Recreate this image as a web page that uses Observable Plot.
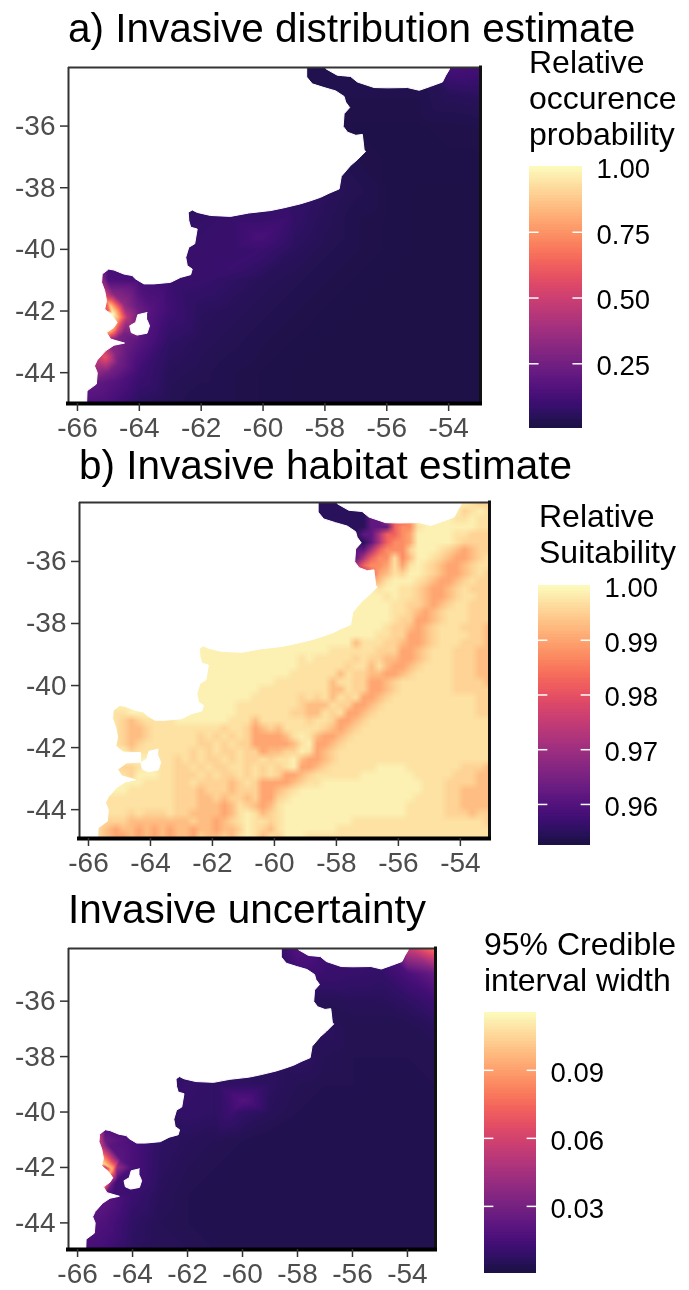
<!DOCTYPE html>
<html><head><meta charset="utf-8">
<script src="https://cdn.jsdelivr.net/npm/d3@7"></script>
<script src="https://cdn.jsdelivr.net/npm/@observablehq/plot@0.6"></script>
<style>
html,body{margin:0;padding:0;background:#fff;width:689px;height:1290px;overflow:hidden;font-family:"Liberation Sans",Arial,sans-serif}
body{filter:blur(.45px)}
.t{position:absolute;white-space:nowrap;color:#000}
.pt{font-size:40.5px;line-height:40px}
.lt{font-size:32px;line-height:36px;white-space:pre}
.p{position:absolute;left:0}
.p svg{display:block;overflow:visible}
</style></head><body>
<script>
const xTicks=[-66,-64,-62,-60,-58,-56,-54];
const yTicks=[-36,-38,-40,-42,-44];
const lons=[-67,-66,-65,-64,-63,-62,-61,-60,-59,-58,-57,-56,-55,-54,-53];
const lats=[-34,-35,-36,-37,-38,-39,-40,-41,-42,-43,-44,-45];
const distGrid=[
[.018,.018,.018,.018,.018,.018,.018,.018,.018,.018,.018,.018,.03,.13,.12],
[.018,.018,.018,.018,.018,.018,.018,.018,.018,.018,.018,.018,.018,.04,.05],
[.018,.018,.018,.018,.018,.018,.018,.018,.018,.018,.012,.012,.012,.015,.018],
[.018,.018,.018,.018,.018,.018,.018,.018,.018,.03,.018,.012,.012,.012,.012],
[.03,.03,.03,.03,.03,.03,.04,.04,.04,.05,.03,.012,.008,.008,.008],
[.05,.05,.05,.05,.06,.07,.08,.08,.07,.04,.018,.012,.008,.008,.008],
[.08,.08,.08,.08,.08,.08,.08,.09,.05,.03,.018,.012,.008,.008,.008],
[.15,.15,.14,.12,.09,.08,.06,.04,.03,.018,.012,.008,.008,.008,.008],
[.60,.60,.60,.22,.10,.05,.04,.03,.018,.012,.008,.008,.008,.008,.008],
[.40,.40,.30,.17,.06,.04,.03,.018,.012,.008,.008,.008,.008,.008,.008],
[.30,.30,.25,.10,.04,.03,.018,.012,.008,.008,.008,.008,.008,.008,.008],
[.15,.15,.13,.05,.03,.018,.018,.012,.008,.008,.008,.008,.008,.008,.008]];
const distHot=[[-60.08,-39.6,.125],[-59.2,-39,.09],[-61,-40.6,.09],[-65,-42.02,1],[-64.85,-42.1,1],[-64.93,-41.85,.88],[-64.72,-42.0,.78],[-64.67,-42.2,.8],[-64.38,-42.2,.42],[-65.09,-41.6,.62],[-65.09,-41.35,.42],[-65.15,-40.9,.25],[-64.83,-41.45,.3],[-64.51,-41.77,.33],[-64.06,-41.9,.22],[-63.6,-41.95,.16],[-64.95,-42.65,.82],[-64.8,-42.6,.72],[-64.67,-42.6,.5],[-64.5,-42.75,.25],[-64.7,-42.87,.28],[-65.09,-43.5,.58],[-65.3,-43.7,.42],[-64.77,-43.4,.3],[-64.7,-43.7,.25],[-65.15,-43.95,.3],[-64.38,-43.3,.2],[-64.6,-44.25,.15],[-65.48,-44.37,.2]];
const uncGrid=[
[.005,.005,.005,.005,.005,.005,.005,.005,.005,.018,.012,.010,.012,.060,.085],
[.005,.005,.005,.005,.005,.005,.005,.005,.010,.012,.010,.009,.008,.015,.025],
[.004,.004,.004,.004,.004,.004,.004,.004,.004,.004,.004,.005,.005,.007,.011],
[.004,.004,.004,.004,.004,.004,.004,.004,.004,.005,.006,.003,.003,.003,.005],
[.005,.005,.005,.005,.005,.005,.005,.006,.006,.007,.004,.003,.003,.003,.003],
[.007,.007,.007,.007,.007,.009,.007,.007,.006,.004,.003,.003,.002,.002,.003],
[.007,.007,.007,.007,.007,.008,.007,.008,.005,.003,.002,.002,.002,.002,.002],
[.020,.020,.025,.015,.007,.005,.004,.003,.002,.002,.002,.002,.002,.002,.002],
[.050,.050,.050,.015,.006,.004,.003,.002,.002,.002,.002,.002,.002,.002,.002],
[.030,.030,.022,.010,.005,.003,.002,.002,.002,.002,.002,.002,.002,.002,.002],
[.020,.020,.016,.007,.004,.003,.002,.002,.002,.002,.002,.002,.002,.002,.002],
[.014,.014,.012,.006,.004,.004,.003,.002,.002,.002,.002,.002,.002,.002,.002]];
const uncHot=[[-59.95,-39.6,.018],[-60.5,-40.1,.010],[-59.4,-39.2,.010],[-65.04,-41.87,.105],[-64.74,-42.05,.095],[-65.1,-41.27,.05],[-65.16,-40.9,.05],[-64.8,-41.27,.02],[-64.44,-41.69,.02],[-64.56,-42,.04],[-65.04,-42.65,.09],[-64.8,-42.65,.025],[-64.55,-42.47,.012],[-64.68,-42.9,.012],[-65.28,-43.56,.02],[-64.98,-43.26,.02]];
const habLevels=[.955,.962,.972,.982,.987,.9898,.9925,.995,.9968,.9985];
const habRows=[
"9999999999 9999999999 9999999990 0000000000 9999999999 877",
"9999999999 9999999999 9999999990 0000000112 3349999997 898",
"9999999999 9999999999 9999999990 0000000112 3349999988 988",
"9999999999 9999999999 9999999999 0000000111 3448999999 988",
"9999999999 9999999999 9999999999 9900001123 3459999988 777",
"9999999999 9999999999 9999999999 9990000123 4459999987 777",
"9999999999 9999999999 9999999999 9991111234 4479998765 677",
"9999999999 9999999999 9999999999 9991112344 8469987655 678",
"9999999999 9999999999 9999999999 9992223445 8589876556 788",
"9999999999 9999999999 9999999999 9999222356 8799876556 787",
"9999999999 9999999999 9999999999 9999999568 9998765567 877",
"9999999999 9999999999 9999999999 9999999989 9887655678 777",
"9999999999 9999999999 9999999999 9999999998 9887655678 877",
"9999999999 9999999999 9999999999 9999999999 8877656788 777",
"9999999999 9999999999 9999999999 9999999999 8876567888 777",
"9999999999 9999999999 9999999999 9999999999 8775567888 777",
"9999999999 9999999999 9999999999 9999999998 7765678887 776",
"9999999999 9999999999 9999999999 9999999988 7755678888 776",
"9999999999 9999999999 9999999999 9999968887 7655678887 776",
"9999999999 9999999999 9999999999 9988888877 7556788877 766",
"9999999999 9999999999 9999999989 8888878776 6556788877 766",
"9999999999 9999999999 9999999988 8888788686 5567888877 766",
"9999999999 9999999999 9999999888 8886877665 5678888877 766",
"9999999999 9999999999 9999988888 8868877556 7888888877 776",
"9999999999 9999999999 9998888888 8866877556 7888888877 777",
"9999999999 9999999999 9988888878 7868785567 8888888888 877",
"9999999999 9999999999 8888888876 6687755678 8888888888 877",
"9998889999 9999999999 8888888776 6878556788 8888888888 877",
"9999876788 8899999998 8868888887 8875567888 8888888888 888",
"9999876678 8888888878 8756768888 8765678888 8888888888 888",
"9999876678 8888878787 8755556898 6556788888 8888888888 888",
"9999876788 8888877878 7755555689 5567888888 8888888888 888",
"9999997888 8888787877 8775667798 5678888888 8888888888 888",
"9999999999 8878787787 8778788965 5678888888 8888888888 888",
"9999877899 8877878778 8787878955 6788888899 9988888887 776",
"9999887999 8877787877 8787875567 8888889999 9998888877 766",
"9999999988 8877877776 7875555678 8999999999 9999888777 766",
"9999998888 8877767776 7775567899 9999999999 9999888776 666",
"9998888888 8877766767 7675578999 9999999999 9998888776 666",
"9998888888 8877766656 8765689999 9999999999 9988888776 666",
"9998887877 7877666656 8986789999 9999999999 9988888777 677",
"9987776666 6666766567 8988789999 9999988888 8888888888 887",
"9976566565 6566566566 7987689999 9998888888 8888888888 888",
"9976556565 6566576676 8986879998 8888888888 8888888888 888"];
const coastMain=[[-67,-33],[-58.59,-33],[-58.59,-34.41],[-58.41,-34.63],[-58.03,-34.75],[-57.65,-34.86],[-57.38,-35.04],[-57.33,-35.22],[-57.2,-35.4],[-57.38,-35.6],[-57.41,-36.01],[-57.27,-36.2],[-57,-36.3],[-56.79,-36.27],[-56.73,-36.79],[-56.68,-36.82],[-56.95,-37.09],[-57.17,-37.28],[-57.47,-37.63],[-57.54,-38.04],[-57.87,-38.18],[-58.14,-38.31],[-58.46,-38.42],[-58.78,-38.52],[-59.32,-38.65],[-59.75,-38.74],[-60.46,-38.82],[-61.05,-38.93],[-61.7,-38.9],[-62.13,-38.8],[-62.29,-38.72],[-62.42,-38.8],[-62.4,-39.07],[-62.34,-39.28],[-62.13,-39.34],[-62.21,-39.82],[-62.4,-39.93],[-62.5,-40.26],[-62.45,-40.53],[-62.29,-40.64],[-62.34,-40.82],[-62.67,-40.91],[-62.99,-41.07],[-63.53,-41.12],[-63.85,-41.12],[-64.12,-40.96],[-64.23,-40.85],[-64.5,-40.8],[-64.82,-40.67],[-64.99,-40.64],[-65.2,-40.8],[-65.22,-41.07],[-65.12,-41.34],[-65.06,-41.67],[-65.12,-41.94],[-64.88,-42.15],[-64.72,-42.37],[-64.82,-42.53],[-65.06,-42.7],[-64.93,-42.91],[-64.48,-43.04],[-64.82,-43.11],[-65.09,-43.29],[-65.36,-43.59],[-65.45,-43.78],[-65.36,-44],[-65.39,-44.37],[-65.69,-44.59],[-65.74,-46],[-67,-46]];
const coastNorth=[[-57.97,-33],[-57.97,-34.14],[-57.6,-34.35],[-57.17,-34.39],[-56.95,-34.57],[-56.41,-34.75],[-55.98,-34.76],[-55.33,-34.75],[-54.95,-34.84],[-54.58,-34.71],[-54.2,-34.57],[-54.09,-34.35],[-53.98,-34.17],[-53.71,-33]];
const coastHole=[[-63.75,-42.05],[-64.05,-42.12],[-64.12,-42.37],[-64.31,-42.48],[-64.26,-42.7],[-64.07,-42.78],[-63.75,-42.72],[-63.67,-42.48],[-63.75,-42.29]];
const habitatGap=[[-65.3,-42.14],[-64.32,-42.16],[-64.32,-42.47],[-65.13,-42.51]];
const magma=t=>d3.interpolateMagma(0.125+0.875*t);
function table(grid,hot){const o=[];grid.forEach((r,i)=>r.forEach((v,j)=>o.push({lon:lons[j],lat:lats[i],v})));hot.forEach(h=>o.push({lon:h[0],lat:h[1],v:h[2]}));return o;}
function add(node,top){const d=document.createElement("div");d.className="p";d.style.top=top+"px";d.appendChild(node);document.body.appendChild(d);}
function text(cls,left,top,s){const d=document.createElement("div");d.className="t "+cls;d.style.left=left+"px";d.style.top=top+"px";d.textContent=s;document.body.appendChild(d);}
const landMark=c=>Plot.line(c,{x:d=>d[0],y:d=>d[1],fill:"#fff",stroke:"#fff",strokeWidth:1,clip:true});
const land=[coastMain,coastNorth,coastHole].map(landMark);
function map(cfg){
 const H=cfg.bottom-cfg.top;
 const node=Plot.plot({
  width:cfg.right+20,height:H+75,marginLeft:cfg.left,marginRight:20,marginTop:10,marginBottom:65,
  style:{background:"transparent",fontFamily:"'Liberation Sans',Arial,sans-serif"},
  x:{domain:cfg.xd,axis:null},y:{domain:cfg.yd,axis:null},
  color:{type:"linear",domain:cfg.cd,interpolate:magma},
  marks:[cfg.raster,...land,...(cfg.extra||[]),
   Plot.ruleX([cfg.xd[0]],{stroke:"#333",strokeWidth:2}),
   Plot.ruleY([cfg.yd[1]],{stroke:"#333",strokeWidth:2}),
   Plot.ruleX([cfg.xd[1]],{stroke:"#111",strokeWidth:3,strokeLinecap:"square"}),
   Plot.ruleY([cfg.yd[0]],{stroke:"#000",strokeWidth:4,strokeLinecap:"square"}),
   Plot.axisX({ticks:xTicks,tickSize:8,tickPadding:6,fontSize:28,stroke:"#333",strokeWidth:1.5,color:"#4d4d4d",label:null,tickFormat:d=>String(d)}),
   Plot.axisY({ticks:yTicks,tickSize:8,tickPadding:5,fontSize:28,stroke:"#333",strokeWidth:1.5,color:"#4d4d4d",label:null,tickFormat:d=>String(d)})
  ]});
 add(node,cfg.top-10);
}
function bar(cfg){
 const H=cfg.bottom-cfg.top,n=90,[a,b]=cfg.cd;
 const steps=d3.range(n).map(i=>a+(b-a)*i/n);
 const node=Plot.plot({
  width:cfg.right+90,height:H+30,marginLeft:cfg.left,marginRight:90,marginTop:15,marginBottom:15,
  style:{background:"transparent",fontFamily:"'Liberation Sans',Arial,sans-serif"},
  x:{domain:[0,1],axis:null},y:{domain:cfg.cd,axis:null},
  color:{type:"linear",domain:cfg.cd,interpolate:magma},
  marks:[
   Plot.rect(steps,{x1:0,x2:1,y1:d=>d,y2:d=>d+(b-a)/n+(b-a)/H,fill:d=>d,clip:true}),
   Plot.ruleY(cfg.ticks.filter(t=>t<b),{x1:0,x2:.18,stroke:"#fff",strokeWidth:1.5}),
   Plot.ruleY(cfg.ticks.filter(t=>t<b),{x1:.82,x2:1,stroke:"#fff",strokeWidth:1.5}),
   Plot.axisY({anchor:"right",ticks:cfg.ticks,tickSize:0,tickPadding:14,fontSize:27.5,color:"#000",label:null,textAnchor:"start",dy:2.5,tickFormat:d3.format(".2f")})
  ]});
 add(node,cfg.top-15);
}
const flat=habRows.flatMap(r=>Array.from(r.replace(/ /g,""),c=>habLevels[+c]));
map({left:68,right:480,top:67,bottom:403,xd:[-66.29,-52.97],yd:[-45,-34.1],cd:[.004,1],
 raster:Plot.raster(table(distGrid,distHot),{x:"lon",y:"lat",fill:"v",interpolate:"barycentric",pixelSize:1})});
map({left:79,right:489,top:502,bottom:838,xd:[-66.29,-53.06],yd:[-44.93,-34.1],cd:[.953,1],extra:[landMark(habitatGap)],
 raster:Plot.raster(flat,{width:53,height:44,x1:-66.25,x2:-53,y1:-34,y2:-45,clip:true})});
map({left:68,right:435,top:948,bottom:1249,xd:[-66.33,-52.98],yd:[-44.96,-34.1],cd:[.0004,.1155],
 raster:Plot.raster(table(uncGrid,uncHot),{x:"lon",y:"lat",fill:"v",interpolate:"barycentric",pixelSize:1})});
bar({left:529,right:582,top:166,bottom:428,cd:[.004,1],ticks:[.25,.5,.75,1]});
bar({left:538,right:590,top:585,bottom:845,cd:[.9525,1],ticks:[.96,.97,.98,.99,1]});
bar({left:484,right:536,top:1012,bottom:1273,cd:[.0004,.1155],ticks:[.03,.06,.09]});
text("pt",68,8,"a) Invasive distribution estimate");
text("pt",79,445,"b) Invasive habitat estimate");
text("pt",68,889,"Invasive uncertainty");
text("lt",529,44,"Relative\noccurence\nprobability");
text("lt",539,498,"Relative\nSuitability");
text("lt",484,926,"95% Credible\ninterval width");
</script>
</body></html>
